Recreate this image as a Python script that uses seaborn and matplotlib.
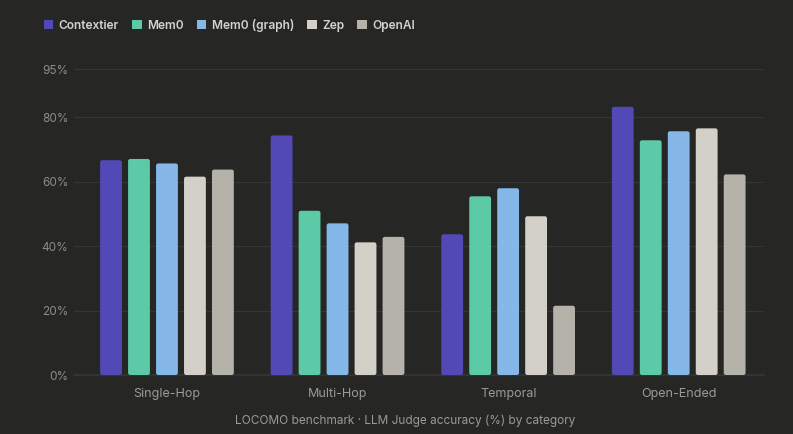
import pandas as pd
import seaborn as sns
import matplotlib.pyplot as plt
from matplotlib.patches import FancyBboxPatch, Patch

# data
categories = ["Single-Hop", "Multi-Hop", "Temporal", "Open-Ended"]
models = ["Contextier", "Mem0", "Mem0 (graph)", "Zep", "OpenAI"]
contextier = [66.7, 74.4, 43.7, 83.3]
mem0 = [67.1, 51.0, 55.5, 72.9]
mem0_graph = [65.7, 47.1, 58.0, 75.7]
zep = [61.6, 41.2, 49.3, 76.6]
openai = [63.8, 42.9, 21.5, 62.3]
y_ticks = [0, 20, 40, 60, 80, 95]
caption = "LOCOMO benchmark \u00b7 LLM Judge accuracy (%) by category"

colors = ["#5249B6", "#5CC9A7", "#85B7E9", "#D3D0C8", "#B5B2AA"]
BG = "#262624"
GRID = "#353533"

rows = []
for name, vals in zip(models, [contextier, mem0, mem0_graph, zep, openai]):
    for cat, v in zip(categories, vals):
        rows.append({"category": cat, "model": name, "accuracy": v})
df = pd.DataFrame(rows)

sns.set_theme(style="dark")
plt.rcParams["font.family"] = ["Inter", "DejaVu Sans"]

fig = plt.figure(figsize=(7.93, 4.34), dpi=100, facecolor=BG)
ax = fig.add_axes([74 / 793, 1 - 375 / 434, 690 / 793, (375 - 53) / 434])
ax.set_facecolor(BG)

sns.barplot(data=df, x="category", y="accuracy", hue="model", order=categories,
            hue_order=models, palette=colors, width=0.82, gap=0.22,
            saturation=1, errorbar=None, ax=ax, legend=False)

# rounded corners on bars
xpx = 1 / 170.7
ypx = 1 / 3.22
for p in list(ax.patches):
    x, y = p.get_x(), p.get_y()
    w, h = p.get_width(), p.get_height()
    fc = p.get_facecolor()
    p.remove()
    ax.add_patch(FancyBboxPatch((x, y), w, h,
                                boxstyle="round,pad=0,rounding_size=%f" % (2.2 * xpx),
                                mutation_aspect=ypx / xpx,
                                facecolor=fc, edgecolor="none", zorder=3))

ax.set_xlim(-0.545, 3.5)
ax.set_ylim(0, 100)
ax.set_yticks(y_ticks)
ax.set_yticklabels([f"{t}%" for t in y_ticks])
ax.yaxis.grid(True, color=GRID, linewidth=0.9)
ax.xaxis.grid(False)
ax.set_axisbelow(True)
for s in ["top", "right", "left"]:
    ax.spines[s].set_visible(False)
ax.spines["bottom"].set_color(GRID)
ax.tick_params(axis="y", colors="#8c8c8a", labelsize=8.5, length=0, pad=4)
ax.tick_params(axis="x", colors="#9a9a98", labelsize=9, length=0, pad=9)
ax.set_xlabel("")
ax.set_ylabel("")

handles = [Patch(facecolor=c, edgecolor="none") for c in colors]
leg = fig.legend(handles, models, loc="center left", bbox_to_anchor=(33 / 793, 1 - 25.5 / 434),
                 ncol=5, frameon=False, handlelength=0.8, handleheight=0.8,
                 handletextpad=0.45, columnspacing=1.1,
                 prop={"size": 8.6, "weight": "semibold"})
for t in leg.get_texts():
    t.set_color("#d4d2cc")

fig.text(405 / 793, 1 - 421 / 434, caption, ha="center", va="center",
         color="#9a9a98", fontsize=8.5)

fig.savefig("out.png", dpi=100, facecolor=BG)
